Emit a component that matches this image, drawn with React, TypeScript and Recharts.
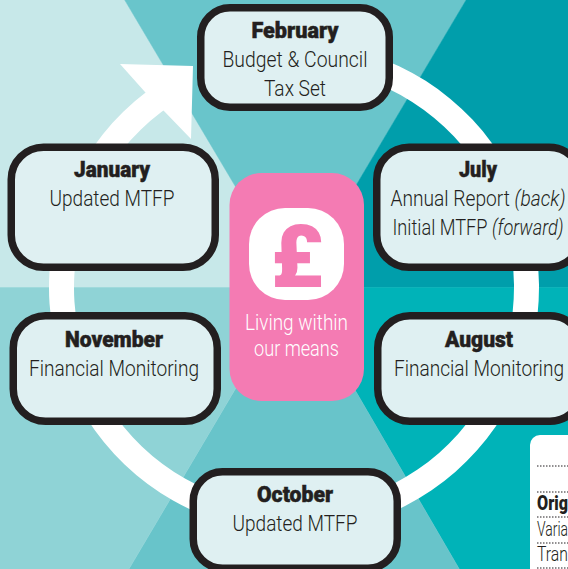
import React from "react";
import { PieChart, Pie, Cell } from "recharts";

const W = 568;
const H = 569;

// Background wedges, clockwise from the left horizon
const wedgeNames = ["topLeft", "topMiddle", "topRight", "bottomRight", "bottomMiddle", "bottomLeft"];
const wedgeValues = [59.3, 61.4, 59.3, 59.8, 60.8, 59.4];
const wedgeColors = ["#C7E8E9", "#69C5CB", "#009EAB", "#00B3B8", "#68C4CA", "#8FD3D6"];

// Cycle ring
const ringValues = [1];

// Card text
const cardTitles = ["February", "January", "July", "November", "August", "October"];
const cardLines: React.ReactNode[][] = [
  ["Budget & Council", "Tax Set"],
  ["Updated MTFP"],
  [
    <>Annual Report <tspan fontStyle="italic">(back)</tspan></>,
    <>Initial MTFP <tspan fontStyle="italic">(forward)</tspan></>,
  ],
  ["Financial Monitoring"],
  ["Financial Monitoring"],
  ["Updated MTFP"],
];

const hubLines = ["Living within", "our means"];
const hubIcon = "£";
const tableLabels = ["Orig", "Varia", "Tran"];

// Layout, separate from the content above
const cardBoxes = [
  { x1: 197, y1: 4, x2: 393, y2: 111, r: 33, cx: 295, title: 38, titleW: 87, lineW: [145, 62] },
  { x1: 7.5, y1: 143.5, x2: 219, y2: 271, r: 36, cx: 112, title: 177, titleW: 76, lineW: [125] },
  { x1: 373, y1: 143.5, x2: 585, y2: 271, r: 36, cx: 478, title: 177, titleW: 38, lineW: [175, 171] },
  { x1: 9.5, y1: 312, x2: 221, y2: 425, r: 36, cx: 114, title: 347, titleW: 98, lineW: [170] },
  { x1: 374, y1: 312, x2: 586, y2: 425, r: 36, cx: 479, title: 347, titleW: 68, lineW: [170] },
  { x1: 189.5, y1: 468, x2: 401, y2: 572, r: 33, cx: 295, title: 502, titleW: 76, lineW: [125] },
];
const lineStep = 29;
const FONT = "Roboto, sans-serif";
const INK = "#231F20";
const PINK = "#F47BB3";

function Overlay() {
  return (
    <svg width={W} height={H} style={{ position: "absolute", left: 0, top: 0 }}>
      <path d="M120 64 L193 66 L191 139 L163 110 L145 92 Z" fill="#fff" />
      {cardBoxes.map((b, i) => (
        <g key={cardTitles[i]}>
          <rect
            x={b.x1 + 3.75}
            y={b.y1 + 3.75}
            width={b.x2 - b.x1 - 7.5}
            height={b.y2 - b.y1 - 7.5}
            rx={b.r - 3.75}
            fill="#DFF0F2"
            stroke={INK}
            strokeWidth={7.5}
          />
          <text
            x={b.cx}
            y={b.title}
            textAnchor="middle"
            fontFamily={FONT}
            fontWeight={900}
            fontSize={22}
            fill={INK}
            stroke={INK}
            strokeWidth={0.5}
            textLength={b.titleW}
            lengthAdjust="spacingAndGlyphs"
          >
            {cardTitles[i]}
          </text>
          {cardLines[i].map((l, j) => (
            <text
              key={j}
              x={b.cx}
              y={b.title + lineStep * (j + 1)}
              textAnchor="middle"
              fontFamily={FONT}
              fontWeight={300}
              fontSize={22.5}
              fill={INK}
              textLength={b.lineW[j]}
              lengthAdjust="spacingAndGlyphs"
            >
              {l}
            </text>
          ))}
        </g>
      ))}
      <rect x={229.5} y={173} width={134.5} height={228} rx={32} fill={PINK} />
      <rect x={249} y={208} width={95} height={92} rx={36} fill="#fff" />
      <text x={297} y={287} textAnchor="middle" fontFamily={FONT} fontWeight={900} fontSize={88} fill={PINK}>
        {hubIcon}
      </text>
      {hubLines.map((l, i) => (
        <text
          key={l}
          x={296.5}
          y={330 + i * 26}
          textAnchor="middle"
          fontFamily={FONT}
          fontWeight={300}
          fontSize={21.5}
          fill="#fff"
          textLength={i === 0 ? 103 : 85}
          lengthAdjust="spacingAndGlyphs"
        >
          {l}
        </text>
      ))}
      <rect x={530} y={435} width={60} height={160} rx={10} fill="#fff" />
      {[466, 492, 517, 543, 568].map((y) => (
        <line key={y} x1={537} x2={568} y1={y} y2={y} stroke={INK} strokeWidth={1} strokeDasharray="1.5 1.5" />
      ))}
      {tableLabels.map((l, i) => (
        <text
          key={l}
          x={537}
          y={510 + i * 25.7}
          fontFamily={FONT}
          fontWeight={i === 0 ? 900 : 300}
          fontSize={21}
          fill={INK}
          textLength={31}
          lengthAdjust="spacingAndGlyphs"
        >
          {l}
        </text>
      ))}
    </svg>
  );
}

const wedgeData = wedgeNames.map((name, i) => ({ name, value: wedgeValues[i] }));
const ringData = ringValues.map((value) => ({ name: "cycle", value }));

export default function App() {
  return (
    <div style={{ position: "absolute", left: 0, top: 0, width: W, height: H, overflow: "hidden" }}>
      <PieChart width={W} height={H} margin={{ top: 0, right: 0, bottom: 0, left: 0 }}>
        <Pie
          data={wedgeData}
          dataKey="value"
          cx={295.4}
          cy={287.5}
          innerRadius={0}
          outerRadius={520}
          startAngle={180}
          endAngle={-180}
          isAnimationActive={false}
          labelLine={false}
        >
          {wedgeData.map((d, i) => (
            <Cell key={d.name} fill={wedgeColors[i]} stroke={wedgeColors[i]} strokeWidth={0.5} />
          ))}
        </Pie>
        <Pie
          data={ringData}
          dataKey="value"
          cx={294}
          cy={287.5}
          innerRadius={220}
          outerRadius={245}
          startAngle={100}
          endAngle={-240}
          stroke="none"
          fill="#fff"
          isAnimationActive={false}
          labelLine={false}
        />
      </PieChart>
      <Overlay />
    </div>
  );
}
